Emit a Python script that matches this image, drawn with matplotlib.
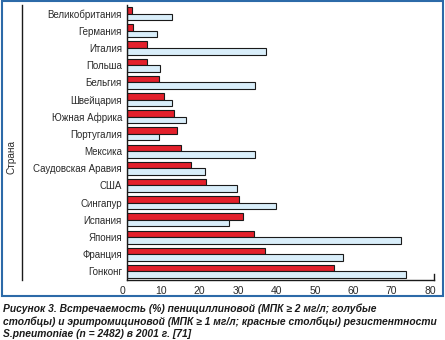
import matplotlib
matplotlib.use('Agg')
import matplotlib.pyplot as plt
import matplotlib.transforms as mtransforms
from matplotlib.patches import Rectangle
from matplotlib.lines import Line2D
from matplotlib import font_manager
import numpy as np

countries = ['Великобритания', 'Германия', 'Италия', 'Польша', 'Бельгия',
             'Швейцария', 'Южная Африка', 'Португалия', 'Мексика',
             'Саудовская Аравия', 'США', 'Сингапур', 'Испания', 'Япония',
             'Франция', 'Гонконг']
penicillin = [11.6, 7.7, 36.1, 8.5, 33.3, 11.6, 15.3, 8.3, 33.4, 20.2,
              28.6, 38.7, 26.5, 71.4, 56.4, 72.6]
erythromycin = [1.2, 1.5, 5.1, 5.1, 8.3, 9.6, 12.2, 12.9, 14.0, 16.8,
                20.5, 29.1, 30.3, 33.0, 35.9, 54.0]
x_ticks = [0, 10, 20, 30, 40, 50, 60, 70, 80]
axis_label = 'Страна'
caption_lines = [
    'Рисунок 3. Встречаемость (%) пенициллиновой (МПК ≥ 2 мг/л; голубые',
    'столбцы) и эритромициновой (МПК ≥ 1 мг/л; красные столбцы) резистентности',
    'S.pneumoniae (n = 2482) в 2001 г. [71]',
]

avail = {f.name for f in font_manager.fontManager.ttflist}
label_font = ['Liberation Sans Narrow', 'Liberation Sans', 'DejaVu Sans']
label_font = [f for f in label_font if f in avail] or ['DejaVu Sans']
cap_font = [f for f in ['Liberation Sans', 'DejaVu Sans'] if f in avail] or ['DejaVu Sans']

W, H = 445, 340
fig = plt.figure(figsize=(W / 100, H / 100), dpi=100)
fig.patch.set_facecolor('white')

ax = fig.add_axes([127 / W, 1 - 280 / H, (434 - 127) / W, (280 - 5) / H])
y = np.arange(len(countries))
bh = 0.38
ax.barh(y - bh / 2, erythromycin, height=bh, color='#e3202b',
        edgecolor='#1a1a1a', linewidth=0.8)
ax.barh(y + bh / 2, penicillin, height=bh, color='#d9eefa',
        edgecolor='#1a1a1a', linewidth=0.8)
ax.set_xlim(0, 80)
ax.set_ylim(len(countries) - 0.5, -0.5)
ax.set_yticks(y)
ax.set_yticklabels(countries, family=label_font, fontsize=7.0, color='#2a2a2a')
ax.set_xticks(x_ticks)
ax.set_xticklabels([str(v) for v in x_ticks], family=label_font,
                   fontsize=7.5, color='#2a2a2a')
ax.tick_params(axis='y', length=0, pad=3.6)
ax.tick_params(axis='x', length=0, pad=4.5)
offset = mtransforms.ScaledTranslation(-4 / 100, 0, fig.dpi_scale_trans)
for lab in ax.get_xticklabels():
    lab.set_transform(lab.get_transform() + offset)
for s in ['top', 'right']:
    ax.spines[s].set_visible(False)
for s in ['left', 'bottom']:
    ax.spines[s].set_color('#1a1a1a')
    ax.spines[s].set_linewidth(1.0)
ax.axvline(x_ticks[-1], ymin=0, ymax=6 / 275, color='#1a1a1a', lw=1.0,
           clip_on=False)

fig.text(11.5 / W, 1 - 157 / H, axis_label, rotation=90, ha='center',
         va='center', fontsize=7.2, family=label_font, color='#2a2a2a')
fig.add_artist(Line2D([22 / W, 22 / W], [1 - 5 / H, 1 - 280 / H],
                      transform=fig.transFigure, color='#1a1a1a', lw=1.0))
fig.add_artist(Rectangle((1.5 / W, 1 - 295.5 / H), (443 - 1.5) / W,
                         (295.5 - 1) / H, transform=fig.transFigure,
                         fill=False, edgecolor='#2c6aa8', lw=1.5))

for i, line in enumerate(caption_lines):
    fig.text(3 / W, 1 - (309 + 12.5 * i) / H, line, ha='left', va='center',
             fontsize=7.4, family=cap_font, fontweight='bold',
             fontstyle='italic', color='#1a1a1a')

fig.savefig('out.png', dpi=100, facecolor='white')
